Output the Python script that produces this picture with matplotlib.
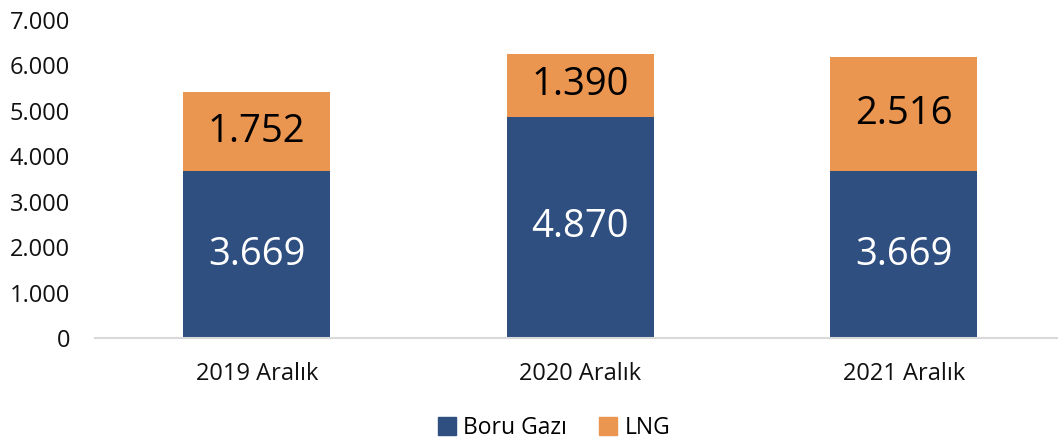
import matplotlib
matplotlib.use("Agg")
import matplotlib.pyplot as plt
from matplotlib.patches import Patch

categories = ["2019 Aralık", "2020 Aralık", "2021 Aralık"]
boru_gazi = [3669, 4870, 3669]
lng = [1752, 1390, 2516]
yticks = [0, 1000, 2000, 3000, 4000, 5000, 6000, 7000]

def fmt(v):
    return f"{v:,}".replace(",", ".")

blue = "#2F4F80"
orange = "#EA9550"

W, H = 1058, 441
fig = plt.figure(figsize=(W / 100, H / 100), dpi=100)
ax = fig.add_axes([95 / W, (H - 338) / H, (W - 95) / W, (338 - 20) / H])

x = list(range(len(categories)))
bw = 0.455
ax.bar(x, boru_gazi, width=bw, color=blue, label="Boru Gazı", zorder=2)
ax.bar(x, lng, width=bw, bottom=boru_gazi, color=orange, label="LNG", zorder=2)

lab_font = dict(family=["Open Sans", "DejaVu Sans"], fontsize=27.5, fontweight="medium")
for xi, b, l in zip(x, boru_gazi, lng):
    ax.text(xi, b / 2, fmt(b), ha="center", va="center", color="white", **lab_font)
    ax.text(xi, b + l / 2, fmt(l), ha="center", va="center", color="black", **lab_font)

ax.set_ylim(0, 7000)
ax.set_xlim(-0.5, -0.5 + (W - 95) / 323.5)
ax.set_yticks(yticks)
ax.set_yticklabels([fmt(v) for v in yticks], fontsize=17, family=["Open Sans", "DejaVu Sans"], color="#111111")
ax.set_xticks(x)
ax.set_xticklabels(categories, fontsize=17, family=["Open Sans", "DejaVu Sans"], color="#111111")
ax.tick_params(axis="both", length=0)
ax.tick_params(axis="y", pad=18)
ax.tick_params(axis="x", pad=17)
for s in ["top", "right", "left"]:
    ax.spines[s].set_visible(False)
ax.spines["bottom"].set_color("#D9D9D9")
ax.spines["bottom"].set_linewidth(1.5)

handles = [Patch(color=blue, label="Boru Gazı"), Patch(color=orange, label="LNG")]
fig.legend(handles=handles, loc="center", bbox_to_anchor=(554 / W, (H - 428) / H), ncol=2,
           frameon=False, prop={"family": ["Open Sans", "DejaVu Sans"], "size": 16.5},
           handlelength=0.8, handleheight=0.8, handletextpad=0.3, columnspacing=1.4)

fig.savefig("out.png", dpi=100)
